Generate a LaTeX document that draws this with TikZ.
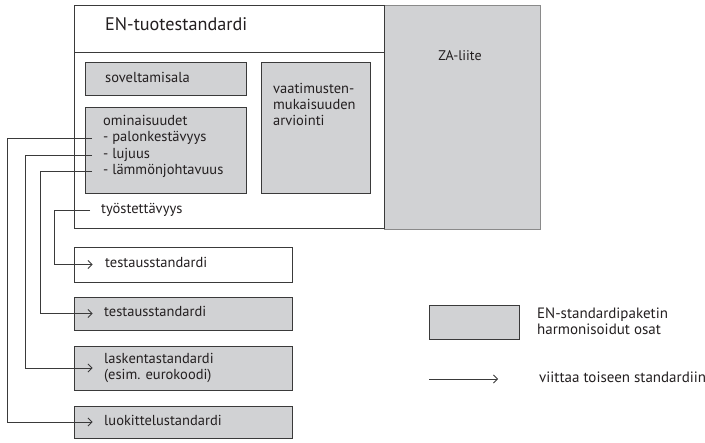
\documentclass[tikz,border=0pt]{standalone}
\usepackage{fontspec}
\setmainfont{PT Sans}
\usetikzlibrary{arrows.meta,calc}

\definecolor{harmgray}{HTML}{D1D2D4}
\definecolor{linegray}{HTML}{3A3A3A}
\definecolor{zagray}{HTML}{8A8A8A}
\definecolor{inkgray}{HTML}{231F20}

\tikzset{
  boxshape/.style={draw=linegray, line width=0.9pt, inner sep=0pt},
  harm/.style={boxshape, fill=harmgray},
  plainbox/.style={boxshape, fill=white},
  txt/.style={anchor=west, inner sep=0pt, text=inkgray,
              font=\fontsize{14.5}{16}\selectfont, text height=1.5ex, text depth=.25ex},
  txtblock/.style={anchor=west, inner sep=0pt, text=inkgray, align=left,
              font=\fontsize{14.5}{16}\selectfont},
  viite/.style={draw=linegray, line width=0.8pt, -{Straight Barb[length=4pt,width=8pt]}}
}

\begin{document}
\begin{tikzpicture}[x=1pt,y=-1pt]
  \useasboundingbox (0,0) rectangle (705,443);

  % EN-tuotestandardi ja ZA-liite
  \node (za) [harm, draw=zagray, minimum width=156pt, minimum height=224pt] at (462,117) {};
  \node (en) [plainbox, minimum width=310pt, minimum height=223pt] at (229,116.5) {};
  \node (enhead) [plainbox, minimum width=310pt, minimum height=47pt] at (229,28.5) {};
  \node (entxt) [txt, font=\fontsize{18.2}{20}\selectfont] at (105,27) {EN-tuotestandardi};
  \node (zatxt) [txt, anchor=center, font=\fontsize{14}{16}\selectfont] at (460,57) {ZA-liite};

  % sisaiset osat
  \begin{scope}[every node/.style={harm}]
    \node (sov) [minimum width=161pt, minimum height=33pt] at (165.5,78.5) {};
    \node (omin) [minimum width=161pt, minimum height=86pt] at (165.5,150) {};
    \node (vaat) [minimum width=109pt, minimum height=131pt] at (315.5,127.5) {};
  \end{scope}

  \node (sovtxt) [txt] at (105,79) {soveltamisala};
  \node (omintxt) [txt] at (103,122) {ominaisuudet};
  \node (palo) [txt] at (103,138) {- palonkestävyys};
  \node (luju) [txt] at (103,155) {- lujuus};
  \node (lampo) [txt] at (103,171) {- lämmönjohtavuus};
  \node (vaattxt) [txtblock] at (273,104) {vaatimusten-\\mukaisuuden\\arviointi};
  \node (tyo) [txt] at (101,210) {työstettävyys};

  % muut standardit
  \begin{scope}[every node/.style={harm, minimum width=218pt}]
    \node (testa) [fill=white, minimum height=35pt] at (183,264.5) {};
    \node (testb) [minimum height=33pt] at (183,313.5) {};
    \node (lask) [minimum height=44pt] at (183,368) {};
    \node (luok) [minimum height=32pt] at (183,422) {};
  \end{scope}

  \node (testatxt) [txt] at (105,264) {testausstandardi};
  \node (testbtxt) [txt] at (104,313) {testausstandardi};
  \node (lasktxt) [txtblock] at (104,368) {laskentastandardi\\(esim. eurokoodi)};
  \node (luoktxt) [txt] at (104,422) {luokittelustandardi};

  % viittaukset
  \draw[viite] (palo.west) ++(-11,0) -| (7,0 |- luok.west) -- ($(luok.west)+(19,0)$);
  \draw[viite] (luju.west) ++(-11,0) -| (25,0 |- lask.west) -- ($(lask.west)+(19,0)$);
  \draw[viite] (lampo.west) ++(-11,0) -| (40,0 |- testb.west) -- ($(testb.west)+(19,0)$);
  \draw[viite] (tyo.west) ++(-11,0) -| (54,0 |- testa.west) -- ($(testa.west)+(19,0)$);

  % selitteet
  \node (legbox) [harm, minimum width=90pt, minimum height=34pt] at (474,322) {};
  \node (legtxt) [txtblock, font=\fontsize{15}{16}\selectfont] at (537,321) {EN-standardipaketin\\harmonisoidut osat};
  \coordinate (lega) at (429,379);
  \coordinate (legb) at (498,379);
  \draw[viite] (lega) -- (legb);
  \node (viitetxt) [txt, font=\fontsize{15}{16}\selectfont] at (539,379) {viittaa toiseen standardiin};
\end{tikzpicture}
\end{document}
